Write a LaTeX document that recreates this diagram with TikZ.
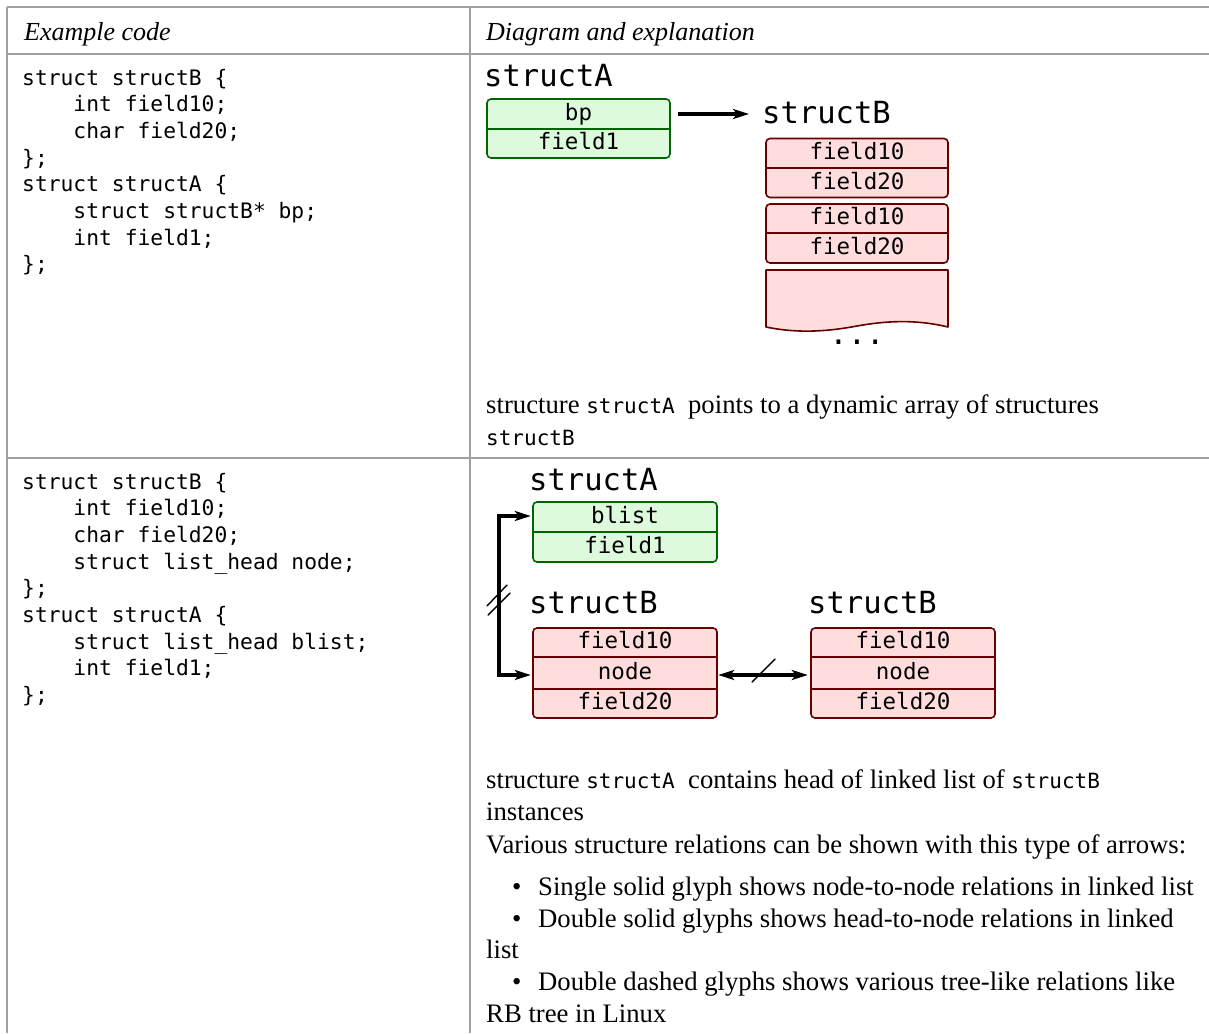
\documentclass[tikz,border=0pt]{standalone}
\usepackage{fontspec}
\setmainfont{Liberation Serif}
\newfontfamily\monof{DejaVu Sans Mono}
\usetikzlibrary{arrows.meta,calc}
\definecolor{tgray}{RGB}{160,160,160}
\definecolor{gfill}{RGB}{221,250,221}
\definecolor{gstroke}{RGB}{0,100,0}
\definecolor{rfill}{RGB}{255,221,221}
\definecolor{rstroke}{RGB}{102,0,0}
\newcommand\cind{\phantom{xxxx}}
\newcommand\mc[1]{{\monof\fontsize{21}{26}\selectfont #1}}
\tikzset{
  tline/.style={draw=tgray, line width=1.6pt},
  hdr/.style={font=\fontsize{26}{32}\selectfont\itshape, anchor=base west, inner sep=0pt},
  code/.style={font=\monof\fontsize{21.3}{26.7}\selectfont, anchor=base west, inner sep=0pt},
  desc/.style={font=\fontsize{26.7}{32}\selectfont, anchor=base west, inner sep=0pt},
  lbl/.style={font=\monof\fontsize{30.5}{36}\selectfont, anchor=base west, inner sep=0pt},
  gbox/.style={draw=gstroke, fill=gfill, line width=1.6pt, rounded corners=4pt, inner sep=0pt},
  rbox/.style={draw=rstroke, fill=rfill, line width=1.6pt, rounded corners=4pt, inner sep=0pt},
  cell/.style={font=\monof\fontsize{22.5}{26}\selectfont, inner sep=0pt, text height=12pt, text depth=0pt},
  gdiv/.style={draw=gstroke, line width=1.6pt},
  rdiv/.style={draw=rstroke, line width=1.6pt},
  arrA/.style={line width=4pt, -{Stealth[length=16pt,width=10pt,inset=4pt]}},
  arrB/.style={line width=3.4pt, {Stealth[length=16pt,width=10pt,inset=4pt]}-{Stealth[length=16pt,width=10pt,inset=4pt]}},
  glyph/.style={line width=1.4pt, line cap=round},
}
\begin{document}
\begin{tikzpicture}[x=1pt,y=-1pt]
\useasboundingbox (0,0) rectangle (1209,1033);
\fill[white] (0,0) rectangle (1209,1033);
% table
\draw[tline] (7,7) -- (1209,7);
\draw[tline] (7,54) -- (1209,54);
\draw[tline] (7,458) -- (1209,458);
\draw[tline] (7,7) -- (7,1033);
\draw[tline] (470,7) -- (470,1033);
\node[hdr] (h1) at (24,41) {Example code};
\node[hdr] (h2) at (486,41) {Diagram and explanation};
% code row 1
\foreach \t [count=\i from 0] in {{struct structB \{},{\cind int field10;},{\cind char field20;},{\};},{struct structA \{},{\cind struct structB* bp;},{\cind int field1;},{\};}}
  \node[code] (ca\i) at (22,85+26.7*\i) {\t};
% code row 2
\foreach \t [count=\i from 0] in {{struct structB \{},{\cind int field10;},{\cind char field20;},{\cind struct list\_head node;},{\};},{struct structA \{},{\cind struct list\_head blist;},{\cind int field1;},{\};}}
  \node[code] (cb\i) at (22,489+26.7*\i) {\t};

% ---------- diagram row 1
\node[lbl] (lA1) at (484,86) {structA};
\node[gbox, minimum width=183pt, minimum height=59pt] (sA1) at (578.5,128.5) {};
\node[cell, minimum width=183pt, minimum height=30pt] (bp) at (578.5,114) {bp};
\node[cell, minimum width=183pt, minimum height=29pt] (f1a) at (578.5,143.5) {field1};
\draw[gdiv] (bp.south west) -- (bp.south east);

\node[lbl] (lB1) at (762,123) {structB};
\node[rbox, minimum width=182pt, minimum height=59pt] (sB1) at (857,168) {};
\node[cell, minimum width=182pt, minimum height=29pt] (b1f10) at (857,153.5) {field10};
\node[cell, minimum width=182pt, minimum height=30pt] (b1f20) at (857,183) {field20};
\draw[rdiv] (b1f10.south west) -- (b1f10.south east);
\node[rbox, minimum width=182pt, minimum height=59pt] (sB2) at (857,233.5) {};
\node[cell, minimum width=182pt, minimum height=29pt] (b2f10) at (857,218.5) {field10};
\node[cell, minimum width=182pt, minimum height=30pt] (b2f20) at (857,248) {field20};
\draw[rdiv] (b2f10.south west) -- (b2f10.south east);
\filldraw[fill=rfill, draw=rstroke, line width=1.6pt, line join=round]
  (766,270) -- (948,270) -- (948,327)
  .. controls (915,319) and (885,321) .. (857,326)
  .. controls (830,331) and (800,334) .. (766,327) -- cycle;
\node[lbl, anchor=base] (dots) at (857,344) {...};
\draw[arrA, shorten <=8pt, shorten >=13pt] (bp.east) -- (bp.east -| lB1.west);

\node[desc] (d1a) at (486,413) {structure \mc{structA}\ \ points to a dynamic array of structures};
\node[desc] (d1b) at (486,445) {\mc{structB}};

% ---------- diagram row 2
\node[lbl] (lA2) at (529,490) {structA};
\node[gbox, minimum width=184pt, minimum height=60pt] (sA2) at (625,532) {};
\node[cell, minimum width=184pt, minimum height=30pt] (blist) at (625,517) {blist};
\node[cell, minimum width=184pt, minimum height=30pt] (f1b) at (625,547) {field1};
\draw[gdiv] (blist.south west) -- (blist.south east);

\node[lbl] (lB2) at (529,613) {structB};
\node[rbox, minimum width=184pt, minimum height=90pt] (sB3) at (625,673) {};
\node[cell, minimum width=184pt, minimum height=29pt] (l10) at (625,642.5) {field10};
\node[cell, minimum width=184pt, minimum height=32pt] (lnode) at (625,673) {node};
\node[cell, minimum width=184pt, minimum height=29pt] (l20) at (625,703.5) {field20};
\draw[rdiv] (l10.south west) -- (l10.south east);
\draw[rdiv] (l20.north west) -- (l20.north east);

\node[lbl] (lB3) at (808,613) {structB};
\node[rbox, minimum width=184pt, minimum height=90pt] (sB4) at (903,673) {};
\node[cell, minimum width=184pt, minimum height=29pt] (r10) at (903,642.5) {field10};
\node[cell, minimum width=184pt, minimum height=32pt] (rnode) at (903,673) {node};
\node[cell, minimum width=184pt, minimum height=29pt] (r20) at (903,703.5) {field20};
\draw[rdiv] (r10.south west) -- (r10.south east);
\draw[rdiv] (r20.north west) -- (r20.north east);

% arrows row 2
\draw[arrB, shorten <=2pt, shorten >=2pt] ([yshift=1pt]blist.west) -- ++(-34pt,0) |- ([yshift=-2pt]lnode.west);
\draw[glyph] (487,606) -- (507,585);
\draw[glyph] (488,615) -- (510,593);
\draw[arrB, shorten <=1pt, shorten >=3pt] ([yshift=-2pt]lnode.east) -- ([yshift=-2pt]rnode.west);
\draw[glyph] (752,682) -- (775,659);

\node[desc] (d2a) at (486,788) {structure \mc{structA}\ \ contains head of linked list of \mc{structB}};
\node[desc] (d2b) at (486,820) {instances};
\node[desc] (d2c) at (486,853) {Various structure relations can be shown with this type of arrows:};
\node[desc] (bu1) at (512,895) {\textbullet};
\node[desc] (d2d) at (538,895) {Single solid glyph shows node-to-node relations in linked list};
\node[desc] (bu2) at (512,927) {\textbullet};
\node[desc] (d2e) at (538,927) {Double solid glyphs shows head-to-node relations in linked};
\node[desc] (d2f) at (486,958) {list};
\node[desc] (bu3) at (512,990) {\textbullet};
\node[desc] (d2g) at (538,990) {Double dashed glyphs shows various tree-like relations like};
\node[desc] (d2h) at (486,1022) {RB tree in Linux};
\end{tikzpicture}
\end{document}
